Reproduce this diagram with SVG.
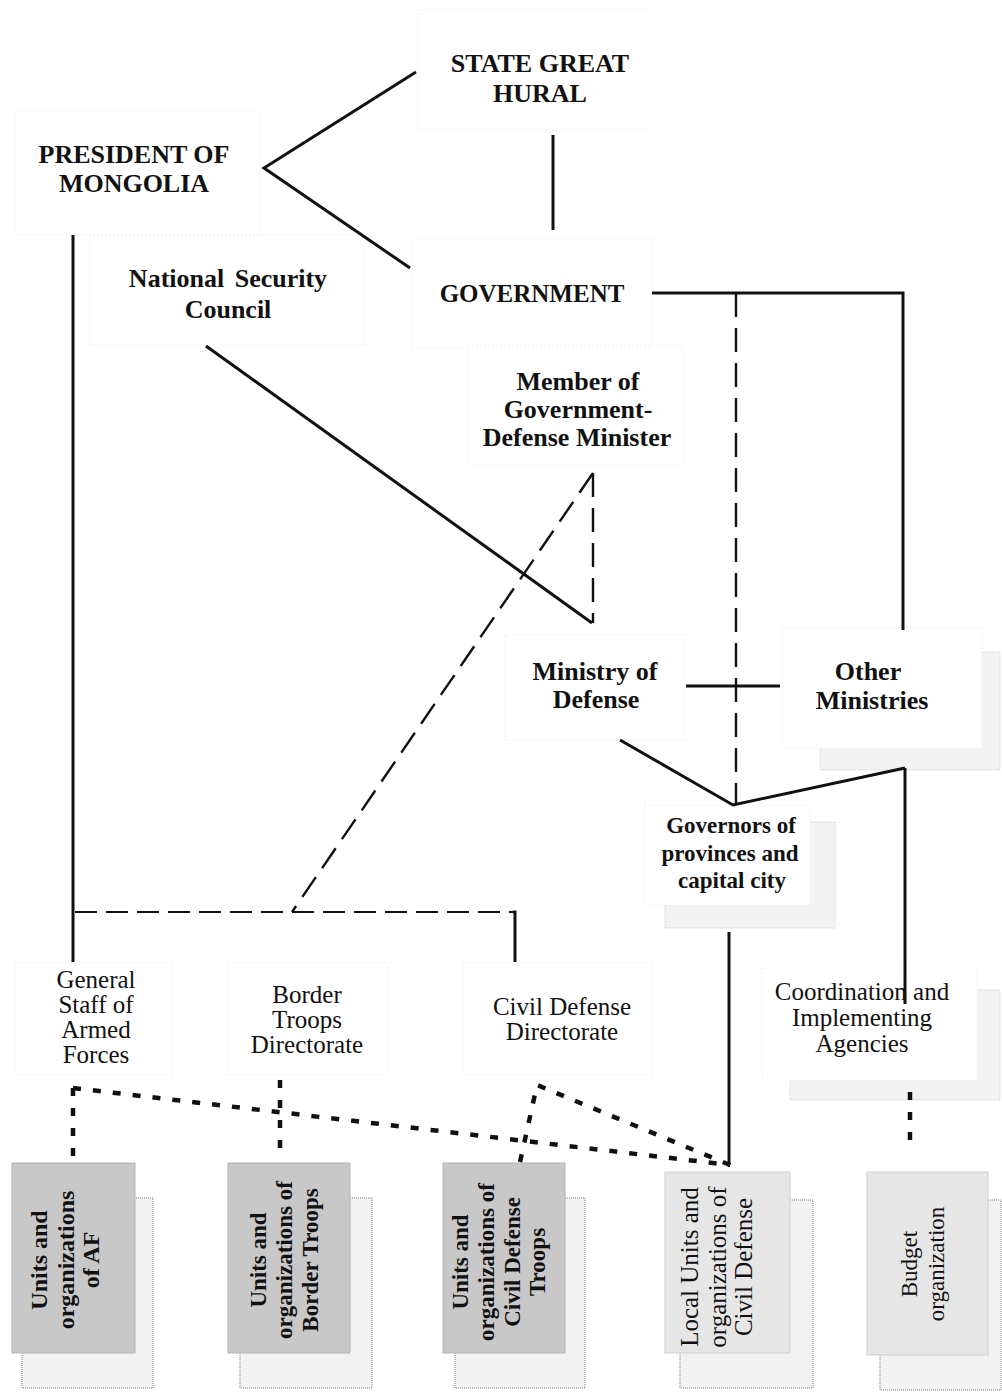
<svg xmlns="http://www.w3.org/2000/svg" width="1002" height="1393" viewBox="0 0 1002 1393">
<style>
text{font-family:"Liberation Serif","Times New Roman",serif;fill:#111;text-anchor:middle}
.b{font-weight:bold}
.t{font-size:26px}
.s{font-size:25px}
.frame{fill:none;stroke:#e6e6e6;stroke-width:1;stroke-dasharray:1 3}
.shade{fill:#f3f3f3;stroke:#d0d0d0;stroke-width:1;stroke-dasharray:1 1}
.dark{fill:#c8c8c8;stroke:#b4b4b4;stroke-width:1}
.light{fill:#e6e6e6;stroke:#cfcfcf;stroke-width:1}
.back{fill:#f2f2f2;stroke:#a8a8a8;stroke-width:1.5;stroke-dasharray:1 1}
.solid{fill:none;stroke:#111;stroke-width:3}
.dash{fill:none;stroke:#111;stroke-width:2.4;stroke-dasharray:24 11}
.dash2{fill:none;stroke:#111;stroke-width:2.2;stroke-dasharray:22 9}
.dot{fill:none;stroke:#111;stroke-width:4.5;stroke-dasharray:8 12}
</style>
<g id="nodes">
<g id="state-great-hural"><rect class="frame" x="418" y="10" width="230" height="120"/><text class="b t" x="540" y="72">STATE GREAT<tspan x="540" y="102">HURAL</tspan></text></g>
<g id="president"><rect class="frame" x="15" y="110" width="245" height="125"/><text class="b t" x="134" y="163">PRESIDENT OF<tspan x="134" y="192">MONGOLIA</tspan></text></g>
<g id="national-security-council"><rect class="frame" x="90" y="235" width="275" height="110"/><text class="b" font-size="26" x="228" y="287" word-spacing="4">National Security<tspan x="228" y="318">Council</tspan></text></g>
<g id="government"><rect class="frame" x="412" y="238" width="240" height="110"/><text class="b" font-size="25" x="532" y="302">GOVERNMENT</text></g>
<g id="defense-minister"><rect class="frame" x="468" y="345" width="215" height="120"/><text class="b t" x="578" y="390">Member of<tspan x="578" y="418">Government-</tspan><tspan x="577" y="446">Defense Minister</tspan></text></g>
<g id="ministry-of-defense"><rect class="frame" x="505" y="635" width="180" height="105"/><text class="b t" x="595" y="680">Ministry of<tspan x="596" y="708">Defense</tspan></text></g>
<g id="other-ministries"><rect class="shade" x="820" y="652" width="180" height="118"/><rect x="782" y="628" width="200" height="120" fill="#fff" stroke="#e6e6e6" stroke-dasharray="1 3"/><text class="b t" x="868" y="680">Other<tspan x="872" y="709">Ministries</tspan></text></g>
<g id="governors"><rect class="shade" x="665" y="822" width="170" height="106"/><rect x="645" y="805" width="165" height="100" fill="#fff" stroke="#e6e6e6" stroke-dasharray="1 3"/><text class="b" font-size="23" x="731" y="833">Governors of<tspan x="730" y="861">provinces and</tspan><tspan x="732" y="888">capital city</tspan></text></g>
<g id="general-staff"><rect class="frame" x="15" y="963" width="158" height="112"/><text class="s" x="96" y="988">General<tspan x="96" y="1013">Staff of</tspan><tspan x="96" y="1038">Armed</tspan><tspan x="96" y="1063">Forces</tspan></text></g>
<g id="border-troops-directorate"><rect class="frame" x="228" y="963" width="160" height="112"/><text class="s" x="307" y="1003">Border<tspan x="307" y="1028">Troops</tspan><tspan x="307" y="1053">Directorate</tspan></text></g>
<g id="civil-defense-directorate"><rect class="frame" x="463" y="963" width="190" height="112"/><text class="s" x="562" y="1015">Civil Defense<tspan x="562" y="1040">Directorate</tspan></text></g>
<g id="coordination-agencies"><rect class="shade" x="790" y="990" width="210" height="110"/><rect x="762" y="968" width="215" height="112" fill="#fff" stroke="#e6e6e6" stroke-dasharray="1 3"/><text class="s" x="862" y="1000">Coordination and<tspan x="862" y="1026">Implementing</tspan><tspan x="862" y="1052">Agencies</tspan></text></g>
<g id="units-af"><rect class="back" x="22" y="1198" width="131" height="190"/><rect class="dark" x="12" y="1163" width="123" height="190"/><text class="b" font-size="24" transform="translate(0,1260) rotate(-90)"><tspan x="0" y="47">Units and</tspan><tspan x="0" y="74">organizations</tspan><tspan x="0" y="99">of AF</tspan></text></g>
<g id="units-border"><rect class="back" x="240" y="1198" width="132" height="190"/><rect class="dark" x="228" y="1163" width="122" height="190"/><text class="b" font-size="23" transform="translate(0,1260) rotate(-90)"><tspan x="0" y="266">Units and</tspan><tspan x="0" y="292">organizations of</tspan><tspan x="0" y="318">Border Troops</tspan></text></g>
<g id="units-civil-defense"><rect class="back" x="455" y="1198" width="130" height="190"/><rect class="dark" x="443" y="1163" width="122" height="190"/><text class="b" font-size="23" transform="translate(0,1262) rotate(-90)"><tspan x="0" y="468">Units and</tspan><tspan x="0" y="494">organizations of</tspan><tspan x="0" y="520">Civil Defense</tspan><tspan x="0" y="545">Troops</tspan></text></g>
<g id="local-units"><rect class="back" x="680" y="1200" width="133" height="188"/><rect class="light" x="665" y="1172" width="125" height="181"/><text font-size="25" transform="translate(0,1267) rotate(-90)"><tspan x="0" y="698">Local Units and</tspan><tspan x="0" y="726">organizations of</tspan><tspan x="0" y="752">Civil Defense</tspan></text></g>
<g id="budget-organization"><rect class="back" x="880" y="1200" width="121" height="190"/><rect class="light" x="867" y="1172" width="121" height="183"/><text font-size="23" transform="translate(0,1264) rotate(-90)"><tspan x="0" y="917">Budget</tspan><tspan x="0" y="944">organization</tspan></text></g>
</g>
<g id="connectors">
<polyline class="solid" points="416,72 264,168 410,268"/>
<line class="solid" x1="553" y1="135" x2="553" y2="230" stroke-width="2.4"/>
<line class="solid" x1="73" y1="235" x2="73" y2="962" stroke-width="3.4"/>
<line class="solid" x1="206" y1="346" x2="592" y2="623"/>
<line class="dash" x1="593" y1="473" x2="593" y2="623"/>
<line class="dash" x1="593" y1="473" x2="292" y2="912"/>
<line class="dash2" x1="75" y1="912" x2="515" y2="912"/>
<polyline class="solid" points="513,912 515,912 515,962" stroke-width="2.4"/>
<polyline class="solid" points="652,293 903,293 903,630"/>
<line class="dash" x1="736" y1="293" x2="736" y2="805"/>
<line class="solid" x1="686" y1="686" x2="780" y2="686"/>
<polyline class="solid" points="620,740 733,805 905,768"/>
<line class="solid" x1="905" y1="768" x2="905" y2="1004"/>
<line class="solid" x1="729" y1="932" x2="729" y2="1165"/>
<line class="dot" x1="910" y1="1092" x2="910" y2="1152"/>
<line class="dot" x1="73" y1="1088" x2="73" y2="1160"/>
<line class="dot" x1="73" y1="1088" x2="730" y2="1165"/>
<line class="dot" x1="280" y1="1080" x2="280" y2="1160"/>
<polyline class="dot" points="520,1162 537,1085 730,1165"/>
</g>
</svg>
